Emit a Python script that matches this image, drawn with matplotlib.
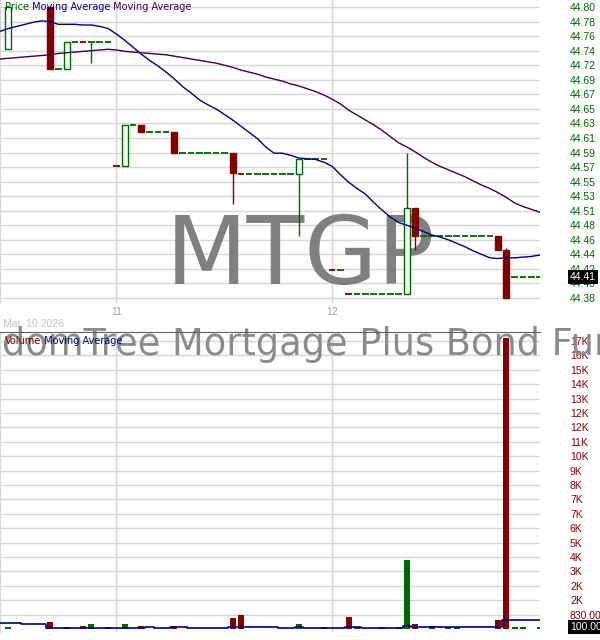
import numpy as np
import matplotlib.pyplot as plt
from matplotlib.patches import Rectangle
from matplotlib.transforms import blended_transform_factory

nan = np.nan

# one slot per bar; slot -1 has no trade, it only carries the averages
slots = list(range(-1, 65))

opens = ([nan, 44.74, nan, nan, nan, nan, 44.80, 44.71, 44.71, 44.75, 44.749,
          44.75, 44.75, 44.75, 44.57, 44.57, 44.63, 44.63] + [44.62] * 3 +
         [44.62] + [44.59] * 6 + [44.59, 44.559] + [44.559] * 6 + [44.559] +
         [44.58] * 3 + [44.42, 44.42, 44.386] + [44.386] * 6 + [44.386, 44.51] +
         [44.47] * 9 + [44.47, 44.449] + [44.41] * 4)
highs = ([nan, 44.80, nan, nan, nan, nan, 44.80, 44.71, 44.75, 44.75, 44.749,
          44.75, 44.75, 44.75, 44.57, 44.63, 44.63, 44.63] + [44.62] * 3 +
         [44.62] + [44.59] * 6 + [44.59, 44.559] + [44.559] * 6 + [44.58] +
         [44.58] * 3 + [44.42, 44.42, 44.386] + [44.386] * 6 + [44.59, 44.51] +
         [44.47] * 9 + [44.47, 44.452] + [44.41] * 4)
lows = ([nan, 44.74, nan, nan, nan, nan, 44.71, 44.71, 44.71, 44.75, 44.749,
         44.719, 44.75, 44.75, 44.57, 44.57, 44.63, 44.62] + [44.62] * 3 +
        [44.59] + [44.59] * 6 + [44.516, 44.559] + [44.559] * 6 + [44.47] +
        [44.58] * 3 + [44.42, 44.42, 44.386] + [44.386] * 6 + [44.386, 44.45] +
        [44.47] * 9 + [44.45, 44.38] + [44.41] * 4)
closes = ([nan, 44.80, nan, nan, nan, nan, 44.71, 44.71, 44.75, 44.75, 44.749,
           44.75, 44.75, 44.75, 44.57, 44.63, 44.63, 44.62] + [44.62] * 3 +
          [44.59] + [44.59] * 6 + [44.56, 44.559] + [44.559] * 6 + [44.58] +
          [44.58] * 3 + [44.42, 44.42, 44.386] + [44.386] * 6 + [44.51, 44.47] +
          [44.47] * 9 + [44.45, 44.38] + [44.41] * 4)
volumes = [0, 100, 0, 0, 0, 0, 390, 0, 100, 0, 200, 270, 0, 100, 0, 270, 0, 200,
           0, 0, 0, 200, 0, 0, 0, 0, 0, 0, 620, 790, 0, 0, 0, 0, 0, 0, 270, 0, 0,
           100, 0, 0, 670, 100, 0, 0, 100, 0, 100, 4000, 270, 0, 200, 0, 100, 100,
           0, 0, 0, 0, 500, 16800, 100, 100, 0, 100]

ma_fast = [44.765, 44.769, 44.772, 44.775, 44.778, 44.780, 44.779, 44.775, 44.775,
           44.775, 44.774, 44.774, 44.772, 44.769, 44.761, 44.752, 44.742, 44.732,
           44.723, 44.715, 44.706, 44.696, 44.685, 44.676, 44.666, 44.659, 44.653,
           44.645, 44.637, 44.628, 44.619, 44.610, 44.598, 44.589, 44.589, 44.586,
           44.582, 44.581, 44.580, 44.576, 44.570, 44.558, 44.547, 44.538, 44.530,
           44.518, 44.507, 44.497, 44.489, 44.485, 44.481, 44.476, 44.471, 44.468,
           44.464, 44.459, 44.454, 44.448, 44.443, 44.438, 44.437, 44.438, 44.438,
           44.439, 44.440, 44.442]
ma_slow = [44.725, 44.726, 44.727, 44.728, 44.729, 44.730, 44.731, 44.733, 44.734,
           44.735, 44.736, 44.737, 44.738, 44.739, 44.738, 44.736, 44.735, 44.734,
           44.733, 44.732, 44.731, 44.729, 44.727, 44.725, 44.723, 44.721, 44.719,
           44.716, 44.713, 44.709, 44.706, 44.703, 44.699, 44.696, 44.693, 44.689,
           44.686, 44.682, 44.678, 44.673, 44.667, 44.660, 44.651, 44.644, 44.637,
           44.630, 44.622, 44.613, 44.604, 44.598, 44.591, 44.583, 44.576, 44.570,
           44.565, 44.560, 44.555, 44.549, 44.543, 44.538, 44.532, 44.525, 44.517,
           44.512, 44.508, 44.504]
vol_ma = ([370] * 3 + [310] * 3 + [80] * 12 + [140] + [80] * 2 + [140] * 2 +
          [80] * 5 + [140] * 6 + [80] * 2 + [140] + [80] * 5 + [140] * 2 +
          [80] * 5 + [200] + [140] * 11 + [520] * 5)

price_ticks = [44.38 + 0.021 * i for i in range(21)]
price_labels = ["44.38", "44.40", "44.42", "44.44", "44.46", "44.48", "44.51",
                "44.53", "44.55", "44.57", "44.59", "44.61", "44.63", "44.65",
                "44.67", "44.69", "44.72", "44.74", "44.76", "44.78", "44.80"]
vol_ticks = [830 * n for n in range(1, 21)]
vol_labels = ["830.00", "2K", "2K", "3K", "4K", "5K", "6K", "7K", "7K", "8K",
              "9K", "10K", "11K", "12K", "12K", "13K", "14K", "15K", "16K", "17K"]
hour_slots = [13, 39]
hour_labels = ["11", "12"]

GREEN = "#006400"
RED = "#800000"
NAVY = "#000080"
PURPLE = "#400040"
GRID = "#d6d6d6"

plt.rcParams["font.family"] = "DejaVu Sans"
fig = plt.figure(figsize=(6, 6.4), dpi=100)
ax_p = fig.add_axes([0, 1 - 303 / 640, 540 / 600, 303 / 640])
ax_v = fig.add_axes([0, 8 / 640, 540 / 600, 324 / 640 - 24 / 640])

# candles, colour from the move against the last traded close
colors = []
prev = None
for x, o, h, l, c in zip(slots, opens, highs, lows, closes):
    if np.isnan(c):
        colors.append(GREEN)
        continue
    up = (c >= prev if prev is not None else True) if o == c else c > o
    col = GREEN if up else RED
    colors.append(col)
    if h > l:
        ax_p.vlines(x, l, h, color=col, lw=1, zorder=3)
    if o == c:
        ax_p.hlines(c, x - 0.4, x + 0.4, color=col, lw=1.3, zorder=4)
    else:
        ax_p.add_patch(Rectangle((x - 0.36, min(o, c)), 0.72, abs(c - o),
                                 facecolor="white" if up else col,
                                 edgecolor=col, lw=1, zorder=4))
    prev = c

ax_p.plot(slots, ma_fast, color=NAVY, lw=1, zorder=5)
ax_p.plot(slots, ma_slow, color=PURPLE, lw=1, zorder=5)

ax_v.bar(slots, volumes, width=0.72, color=colors, zorder=3)
ax_v.step(slots, vol_ma, where="mid", color=NAVY, lw=1.2, zorder=4)

for ax in (ax_p, ax_v):
    ax.set_xlim(-1.02, 64.04)
    ax.set_xticks(hour_slots)
    ax.set_axisbelow(True)
    ax.grid(True, color=GRID, lw=1)
    ax.yaxis.tick_right()
    ax.tick_params(axis="y", length=0, pad=21.6, labelsize=7.5,
                   labelfontfamily="Liberation Sans")
    ax.tick_params(axis="x", length=0)
    for s in ("top", "right", "bottom"):
        ax.spines[s].set_visible(False)
    ax.spines["left"].set_color(GRID)

ax_p.set_ylim(44.3728, 44.8101)
ax_p.set_yticks(price_ticks, price_labels)
ax_p.tick_params(axis="y", labelcolor=GREEN)
ax_p.set_xticklabels(hour_labels)
ax_p.tick_params(axis="x", pad=3, labelsize=7.5, labelcolor="#a0a0a0",
                 labelfontfamily="Liberation Sans")

ax_v.set_ylim(-173, 17119)
ax_v.set_yticks(vol_ticks, vol_labels)
ax_v.tick_params(axis="y", labelcolor=RED)
ax_v.set_xticklabels([])
ax_v.spines["top"].set_visible(True)
ax_v.spines["top"].set_color("#606060")

# watermarks
ax_p.text(0.5, 1 - 284 / 640, "MTGP", transform=fig.transFigure, ha="center",
          va="baseline", fontsize=68, color="#808080", zorder=2)
ax_v.text(289 / 600, 1 - 355 / 640, "WisdomTree Mortgage Plus Bond Fund",
          transform=fig.transFigure, ha="center", va="baseline", fontsize=26.5,
          color="#8a8a8a", zorder=2, clip_on=False)

fig.text(3 / 600, 1 - 324 / 640, "Mar, 10 2026", fontsize=7.5, color="#c4c4c4",
         va="center", family="Liberation Sans")

# legends
t = ax_p.text(5 / 540, 1 - 7 / 303, "Price", transform=ax_p.transAxes,
              fontsize=7, color=GREEN, va="center", zorder=6)
t = ax_p.annotate(" Moving Average", xy=(1, 0), xycoords=t, va="bottom",
                  fontsize=7, color=NAVY, zorder=6)
ax_p.annotate(" Moving Average", xy=(1, 0), xycoords=t, va="bottom",
              fontsize=7, color=PURPLE, zorder=6)
t = ax_v.text(5 / 540, 1 - 9 / 300, "Volume", transform=ax_v.transAxes,
              fontsize=7, color=RED, va="center", zorder=6)
ax_v.annotate(" Moving Average", xy=(1, 0), xycoords=t, va="bottom",
              fontsize=7, color=NAVY, zorder=6)

# last value tags
tag = dict(boxstyle="square,pad=0.2", facecolor="black", edgecolor="none")
ax_p.text(570 / 540, closes[-1], f"{closes[-1]:.2f}",
          transform=blended_transform_factory(ax_p.transAxes, ax_p.transData),
          fontsize=7.5, color="white", va="center", bbox=tag,
          family="Liberation Sans", clip_on=False)
ax_v.text(570 / 540, volumes[-1], f"{volumes[-1]:.2f}",
          transform=blended_transform_factory(ax_v.transAxes, ax_v.transData),
          fontsize=7.5, color="white", va="center", bbox=tag,
          family="Liberation Sans", clip_on=False)

fig.savefig("out.png", dpi=100)
